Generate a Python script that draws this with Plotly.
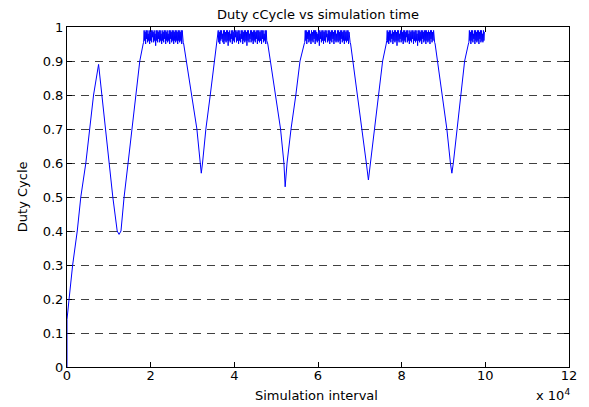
import numpy as np
import plotly.graph_objects as go

# ---- duty cycle trace: ramps between the saturated plateaus ----
# x in simulation steps, y as duty ratio
ramp_x = [
    [0, 0, 500, 1350, 2450, 3300, 4500, 5450, 6350, 7550, 8300, 9150, 10000,
     10950, 12000, 12450, 12900, 13650, 14600, 15550, 16500, 17400, 18200],
    [27900, 28540, 29820, 31050, 31850, 32100, 32400, 33200, 34250, 35250, 35900],
    [48000, 48620, 49860, 51050, 51850, 52150, 52600, 53550, 54700, 55700, 56700],
    [67800, 68360, 69420, 70500, 71550, 72050, 72550, 73550, 74500, 75450, 76300],
    [88000, 88560, 89680, 90800, 91650, 92000, 92350, 93200, 94150, 95050, 95950],
]
ramp_y = [
    [0.0, 0.14, 0.2, 0.3, 0.4, 0.5, 0.6, 0.7, 0.8, 0.89, 0.8, 0.7, 0.6,
     0.5, 0.4, 0.39, 0.4, 0.5, 0.6, 0.7, 0.8, 0.9, 0.95],
    [0.95, 0.9, 0.8, 0.7, 0.6, 0.57, 0.6, 0.7, 0.8, 0.9, 0.95],
    [0.95, 0.9, 0.8, 0.7, 0.6, 0.53, 0.6, 0.7, 0.8, 0.9, 0.95],
    [0.95, 0.9, 0.8, 0.7, 0.6, 0.55, 0.6, 0.7, 0.8, 0.9, 0.95],
    [0.95, 0.9, 0.8, 0.7, 0.6, 0.57, 0.6, 0.7, 0.8, 0.9, 0.95],
]

# ---- plateaus: duty chatters just below 1 ----
plateau_start = [18200, 35900, 56700, 76300, 95950]
plateau_end = [27900, 48000, 67800, 88000, 99900]
plateau_vals = [
    [0.955, 0.99, 0.96, 0.985, 0.95, 0.99, 0.965, 0.99, 0.955, 0.98, 0.96, 0.99, 0.95, 0.985, 0.96, 0.99,
     0.955, 0.99, 0.97, 0.985, 0.955, 0.99, 0.96, 0.98, 0.945, 0.99, 0.96, 0.99, 0.955, 0.985, 0.965, 0.99,
     0.955, 0.99, 0.96, 0.98, 0.95, 0.99, 0.96, 0.985, 0.955, 0.99, 0.965, 0.99, 0.95, 0.985, 0.96, 0.99,
     0.955, 0.98, 0.96, 0.99, 0.95, 0.99, 0.965, 0.985, 0.955, 0.99, 0.96, 0.99, 0.95, 0.985, 0.96, 0.99,
     0.955, 0.99, 0.96, 0.985, 0.95, 0.99, 0.96, 0.99, 0.955, 0.985, 0.96, 0.99, 0.95, 0.99, 0.96, 0.955],
    [0.96, 0.99, 0.955, 0.985, 0.95, 0.99, 0.96, 0.99, 0.965, 0.98, 0.955, 0.99, 0.95, 0.99, 0.96, 0.985,
     0.955, 0.99, 0.96, 0.99, 0.945, 0.985, 0.96, 0.99, 0.955, 0.98, 0.965, 0.99, 0.95, 0.99, 0.96, 0.985,
     0.955, 0.99, 0.97, 0.99, 0.955, 0.985, 0.96, 0.99, 0.95, 0.99, 0.96, 0.98, 0.955, 0.99, 0.965, 0.99,
     0.95, 0.985, 0.96, 0.99, 0.955, 0.99, 0.96, 0.985, 0.945, 0.99, 0.96, 0.99, 0.955, 0.98, 0.965, 0.99,
     0.955, 0.99, 0.96, 0.985, 0.95, 0.99, 0.96, 0.99, 0.955, 0.985, 0.965, 0.99, 0.95, 0.99, 0.96, 0.99,
     0.955, 0.985, 0.96, 0.99, 0.95, 0.99, 0.965, 0.99, 0.955, 0.98, 0.96, 0.99, 0.95, 0.99, 0.96, 0.955],
    [0.955, 0.99, 0.96, 0.99, 0.95, 0.985, 0.965, 0.99, 0.955, 0.99, 0.96, 0.98, 0.95, 0.99, 0.96, 0.985,
     0.955, 0.99, 0.965, 0.99, 0.95, 0.99, 0.96, 0.985, 0.955, 0.98, 0.96, 0.99, 0.945, 0.99, 0.965, 0.985,
     0.955, 0.99, 0.96, 0.99, 0.95, 0.985, 0.96, 0.99, 0.955, 0.99, 0.97, 0.98, 0.955, 0.99, 0.96, 0.99,
     0.95, 0.985, 0.96, 0.99, 0.955, 0.99, 0.965, 0.985, 0.95, 0.99, 0.96, 0.99, 0.955, 0.98, 0.96, 0.99,
     0.955, 0.99, 0.96, 0.985, 0.95, 0.99, 0.965, 0.99, 0.955, 0.985, 0.96, 0.99, 0.95, 0.99, 0.96, 0.985,
     0.955, 0.99, 0.96, 0.99, 0.95, 0.985, 0.96, 0.955],
    [0.96, 0.99, 0.955, 0.985, 0.95, 0.99, 0.96, 0.99, 0.955, 0.98, 0.965, 0.99, 0.95, 0.985, 0.96, 0.99,
     0.955, 0.99, 0.96, 0.985, 0.945, 0.99, 0.96, 0.99, 0.955, 0.98, 0.965, 0.99, 0.955, 0.99, 0.96, 0.985,
     0.95, 0.99, 0.96, 0.99, 0.955, 0.985, 0.97, 0.99, 0.955, 0.99, 0.96, 0.98, 0.95, 0.99, 0.96, 0.985,
     0.955, 0.99, 0.965, 0.99, 0.95, 0.985, 0.96, 0.99, 0.955, 0.99, 0.96, 0.98, 0.945, 0.99, 0.96, 0.99,
     0.955, 0.985, 0.96, 0.99, 0.95, 0.99, 0.965, 0.985, 0.955, 0.99, 0.96, 0.99, 0.95, 0.99, 0.96, 0.985,
     0.955, 0.99, 0.96, 0.985, 0.95, 0.99, 0.965, 0.99, 0.955, 0.985, 0.96, 0.99, 0.96, 0.955],
    [0.955, 0.99, 0.96, 0.985, 0.95, 0.99, 0.96, 0.99, 0.955, 0.98, 0.965, 0.99, 0.95, 0.99,
     0.96, 0.985, 0.955, 0.99, 0.96, 0.99, 0.95, 0.985, 0.965, 0.99, 0.955, 0.99, 0.96, 0.98,
     0.955, 0.99, 0.96, 0.985],
]

# tick labels (x axis is scaled by 10^4)
x_tick_vals = [0, 20000, 40000, 60000, 80000, 100000, 120000]
x_tick_text = ["0", "2", "4", "6", "8", "10", "12"]
y_tick_vals = [0, 0.1, 0.2, 0.3, 0.4, 0.5, 0.6, 0.7, 0.8, 0.9, 1.0]
y_tick_text = ["0", "0.1", "0.2", "0.3", "0.4", "0.5", "0.6", "0.7", "0.8", "0.9", "1"]

# stitch ramps and plateaus into one continuous trace
xs, ys = [], []
for k in range(len(ramp_x)):
    xs.extend(ramp_x[k])
    ys.extend(ramp_y[k])
    vals = plateau_vals[k]
    px = np.linspace(plateau_start[k], plateau_end[k], len(vals) + 2)[1:-1]
    xs.extend(px.tolist())
    ys.extend(vals)
    if k + 1 == len(ramp_x):
        xs.append(plateau_end[k])
        ys.append(0.985)

FONT = "DejaVu Sans"
L, R, T, B = 67, 18, 27, 40
W, H = 589, 407
PW, PH = W - L - R, H - T - B


def px_to_paper(px, py):
    return (px - L) / PW, (H - B - py) / PH


fig = go.Figure()
fig.add_trace(go.Scatter(
    x=xs, y=ys, mode="lines",
    line=dict(color="#0000ff", width=1),
    hoverinfo="skip", showlegend=False,
))

axis_common = dict(
    showline=True, linecolor="black", linewidth=1, mirror="ticks",
    ticks="inside", ticklen=5, tickwidth=1, tickcolor="black",
    zeroline=False, layer="below traces",
    tickfont=dict(family=FONT, size=13, color="black"),
)

fig.update_layout(
    width=W, height=H,
    margin=dict(l=L, r=R, t=T, b=B, pad=0),
    paper_bgcolor="white", plot_bgcolor="white",
    title=dict(text="Duty cCycle vs simulation time",
               font=dict(family=FONT, size=13, color="black"),
               x=px_to_paper(319, 0)[0], xref="paper", xanchor="center",
               y=1 - 14 / H, yref="container", yanchor="middle"),
    xaxis=dict(range=[0, 120000], tickvals=x_tick_vals, ticktext=x_tick_text,
               showgrid=False, ticklabelstandoff=-4, **axis_common),
    yaxis=dict(range=[0, 1], tickvals=y_tick_vals, ticktext=y_tick_text,
               showgrid=True, gridcolor="#404040", gridwidth=1,
               griddash="8px,6px", **axis_common),
)

ax, ay = px_to_paper(317, 395)
fig.add_annotation(text="Simulation interval", x=ax, y=ay, xref="paper", yref="paper",
                   xanchor="center", yanchor="middle", showarrow=False,
                   font=dict(family=FONT, size=13, color="black"))
ax, ay = px_to_paper(536, 395)
fig.add_annotation(text="x 10<sup>4</sup>", x=ax, y=ay, xref="paper", yref="paper",
                   xanchor="left", yanchor="middle", showarrow=False,
                   font=dict(family=FONT, size=13, color="black"))
ax, ay = px_to_paper(22, 197)
fig.add_annotation(text="Duty Cycle", x=ax, y=ay, xref="paper", yref="paper",
                   xanchor="center", yanchor="middle", textangle=-90, showarrow=False,
                   font=dict(family=FONT, size=13, color="black"))

fig.write_html("out.html")
